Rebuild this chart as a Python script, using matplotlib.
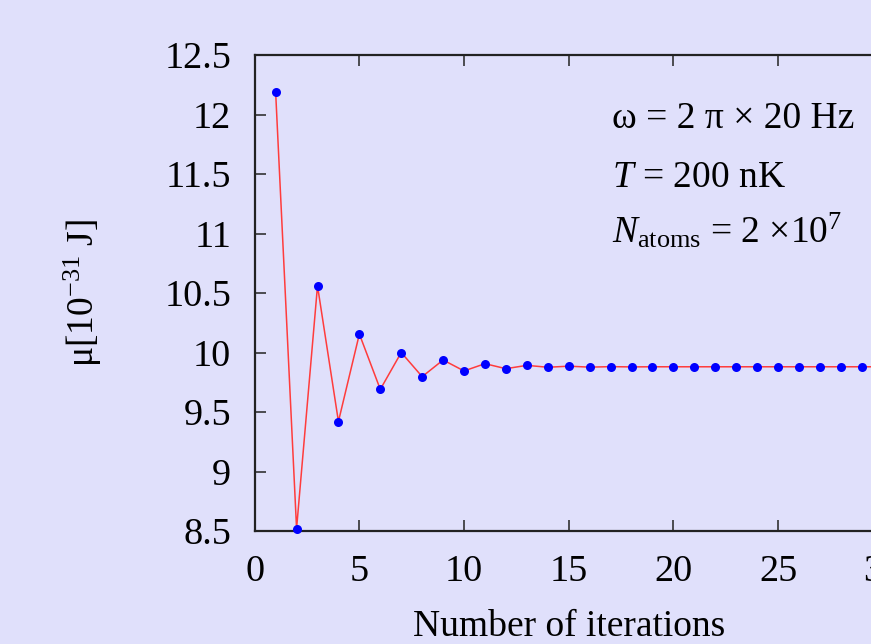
import matplotlib
matplotlib.use("Agg")
import matplotlib.pyplot as plt

iterations = list(range(1, 31))
mu_values = [12.19, 8.52, 10.56, 9.42, 10.155, 9.69, 10.0, 9.797, 9.937, 9.845,
             9.906, 9.864, 9.892, 9.876, 9.885, 9.877, 9.881, 9.879, 9.88, 9.88,
             9.88, 9.88, 9.88, 9.88, 9.88, 9.88, 9.88, 9.88, 9.88, 9.88]
x_ticks = [0, 5, 10, 15, 20, 25, 30]
y_ticks = [8.5, 9, 9.5, 10, 10.5, 11, 11.5, 12, 12.5]
y_tick_labels = ["8.5", "9", "9.5", "10", "10.5", "11", "11.5", "12", "12.5"]

plt.rcParams['font.family'] = ['Liberation Serif', 'DejaVu Serif']
plt.rcParams['mathtext.fontset'] = 'custom'
plt.rcParams['mathtext.rm'] = 'Liberation Serif'
plt.rcParams['mathtext.it'] = 'Liberation Serif:italic'
plt.rcParams['mathtext.bf'] = 'Liberation Serif:bold'

bg = '#e0e0fb'
fig = plt.figure(figsize=(8.71, 6.44), dpi=100, facecolor=bg)
ax = fig.add_axes([254.7/871, 113/644, 628/871, 476/644], facecolor=bg)

ax.plot(iterations, mu_values, color='#ff3c3c', lw=1.1, zorder=2)
ax.plot(iterations, mu_values, 'o', color='#0000ff', ms=6.5, mec='none', zorder=3, clip_on=False)

ax.set_xlim(0, 30)
ax.set_ylim(8.5, 12.5)
ax.set_xticks(x_ticks)
ax.set_yticks(y_ticks)
ax.set_yticklabels(y_tick_labels)
ax.tick_params(direction='in', length=8, width=1.2, colors='#333333', labelcolor='black',
               labelsize=27.5, top=True, right=True)
ax.tick_params(axis='x', pad=17)
ax.tick_params(axis='y', pad=17)
for s in ax.spines.values():
    s.set_linewidth(1.6)
    s.set_color('#222222')

ax.set_xlabel('Number of iterations', fontsize=27, labelpad=15)
ax.set_ylabel(r'μ[10$^{-31}$ J]', fontsize=27, labelpad=43)

ax.text(0.569, 0.847, 'ω = 2 π × 20 Hz', transform=ax.transAxes, fontsize=27, va='baseline')
ax.text(0.569, 0.723, r'$T$ = 200 nK', transform=ax.transAxes, fontsize=27, va='baseline')
ax.text(0.569, 0.605, r'$N_{\mathrm{atoms}}$ = 2 ×10$^{7}$', transform=ax.transAxes, fontsize=27, va='baseline')

fig.savefig('out.png', dpi=100, facecolor=bg)
